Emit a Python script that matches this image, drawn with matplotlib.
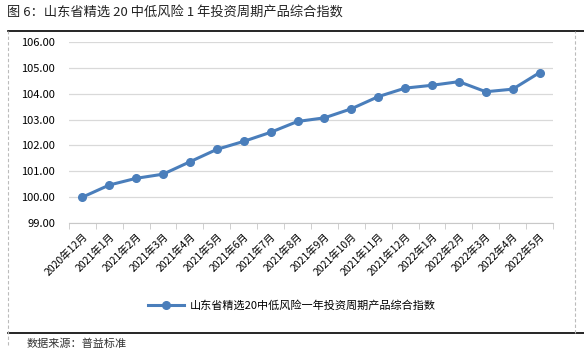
import matplotlib
matplotlib.use('Agg')
import matplotlib.pyplot as plt
from matplotlib.lines import Line2D
import numpy as np

plt.rcParams['font.family'] = ['Noto Sans CJK SC', 'DejaVu Sans']

# data
months = ['2020年12月', '2021年1月', '2021年2月', '2021年3月', '2021年4月', '2021年5月',
          '2021年6月', '2021年7月', '2021年8月', '2021年9月', '2021年10月', '2021年11月',
          '2021年12月', '2022年1月', '2022年2月', '2022年3月', '2022年4月', '2022年5月']
index_vals = [100.00, 100.47, 100.73, 100.89, 101.37, 101.85, 102.16, 102.51, 102.93,
              103.07, 103.42, 103.89, 104.22, 104.33, 104.47, 104.08, 104.18, 104.82]
y_ticks = [99, 100, 101, 102, 103, 104, 105, 106]

series_name = '山东省精选20中低风险一年投资周期产品综合指数'
title = '图 6：山东省精选 20 中低风险 1 年投资周期产品综合指数'
source = '数据来源：普益标准'

blue = '#4a7ebb'

fig = plt.figure(figsize=(5.84, 3.54), dpi=100)
ax = fig.add_axes([0.118, 0.370, 0.829, 0.511])

x = np.arange(len(months))
ax.plot(x, index_vals, color=blue, lw=2.2, marker='o', ms=5.5, label=series_name)

ax.set_ylim(99, 106)
ax.set_yticks(y_ticks)
ax.set_yticklabels([f'{v:.2f}' for v in y_ticks], fontsize=8)
ax.set_xlim(-0.5, len(months) - 0.5)
ax.set_xticks(x)
ax.set_xticklabels(months, rotation=45, ha='right', rotation_mode='anchor', fontsize=7.5)
ax.set_xticks(np.arange(-0.5, len(months)), minor=True)
ax.tick_params(axis='x', which='major', length=0, pad=6)
ax.tick_params(axis='x', which='minor', length=4, color='#c8c8c8', direction='out')
ax.tick_params(axis='y', length=0, pad=10)

ax.grid(axis='y', color='#d9d9d9', lw=0.9)
ax.set_axisbelow(True)
for s in ['top', 'right', 'left']:
    ax.spines[s].set_visible(False)
ax.spines['bottom'].set_color('#c8c8c8')

fig.legend(loc='center', bbox_to_anchor=(0.50, 0.138), frameon=False, fontsize=8,
           handlelength=3.2, handletextpad=0.5)

# title, source and frame lines
fig.text(0.012, 0.965, title, fontsize=9.5, va='center', ha='left', color='#222222')
fig.text(0.045, 0.030, source, fontsize=8, va='center', ha='left', color='#333333')
fig.add_artist(Line2D([0.014, 1.0], [0.912, 0.912], color='black', lw=1.2))
fig.add_artist(Line2D([0.014, 1.0], [0.060, 0.060], color='black', lw=1.2))
fig.add_artist(Line2D([0.014, 0.014], [0.025, 0.912], color='#bbbbbb', lw=0.8, ls=(0, (3, 2))))
fig.add_artist(Line2D([0.985, 0.985], [0.060, 0.912], color='#bbbbbb', lw=0.8, ls=(0, (3, 2))))

fig.savefig('out.png', dpi=100)
